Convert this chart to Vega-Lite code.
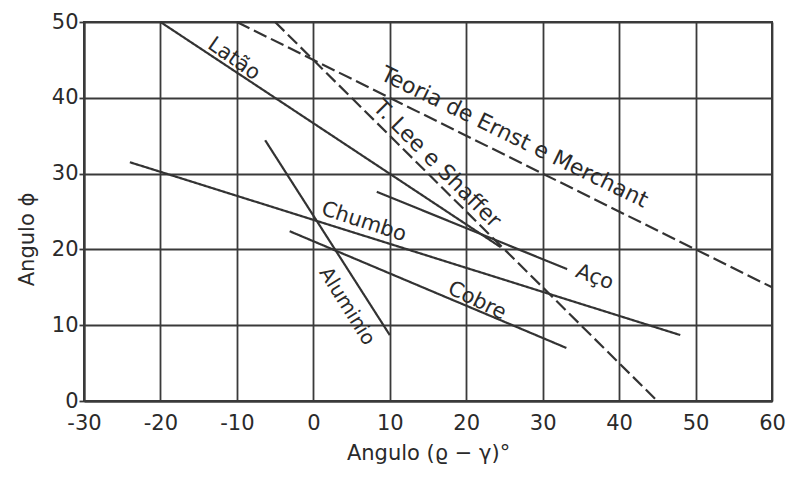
{
  "$schema": "https://vega.github.io/schema/vega-lite/v6.json",
  "width": 688,
  "height": 379,
  "autosize": {"type": "none"},
  "padding": {"left": 84, "top": 22, "right": 18, "bottom": 82},
  "background": "white",
  "config": {
    "view": {"stroke": "#3a3a3a", "strokeWidth": 2},
    "font": "DejaVu Sans",
    "axis": {
      "grid": true,
      "gridColor": "#3a3a3a",
      "gridWidth": 1.8,
      "gridOpacity": 1,
      "domainColor": "#3a3a3a",
      "domainWidth": 2,
      "labelFont": "DejaVu Sans",
      "labelFontSize": 21,
      "labelColor": "#2a2a2a",
      "titleFont": "DejaVu Sans",
      "titleFontSize": 21,
      "titleFontWeight": "normal",
      "titleColor": "#2a2a2a"
    }
  },
  "datasets": {
    "lines": [
      {"series": "Teoria de Ernst e Merchant", "x": -10, "y": 50},
      {"series": "Teoria de Ernst e Merchant", "x": 60, "y": 15},
      {"series": "T. Lee e Shaffer", "x": -5, "y": 50},
      {"series": "T. Lee e Shaffer", "x": 45, "y": 0},
      {"series": "Latão", "x": -20, "y": 50},
      {"series": "Latão", "x": 24.5, "y": 20.3},
      {"series": "Aço", "x": 8.3, "y": 27.6},
      {"series": "Aço", "x": 33.2, "y": 17.4},
      {"series": "Chumbo", "x": -24, "y": 31.5},
      {"series": "Chumbo", "x": 48, "y": 8.7},
      {"series": "Aluminio", "x": -6.3, "y": 34.4},
      {"series": "Aluminio", "x": 10, "y": 8.7},
      {"series": "Cobre", "x": -3.1, "y": 22.4},
      {"series": "Cobre", "x": 33.1, "y": 7.0}
    ],
    "labels": [
      {"label": "Latão", "x": -10.4, "y": 45.1},
      {"label": "Teoria de Ernst e Merchant", "x": 26.3, "y": 34.8},
      {"label": "T. Lee e Shaffer", "x": 16.2, "y": 31.3},
      {"label": "Chumbo", "x": 6.6, "y": 23.6},
      {"label": "Aluminio", "x": 4.4, "y": 12.5},
      {"label": "Cobre", "x": 21.4, "y": 13.2},
      {"label": "Aço", "x": 36.8, "y": 16.3}
    ]
  },
  "layer": [
    {
      "data": {"name": "lines"},
      "mark": {"type": "line", "color": "#333", "strokeWidth": 2.2},
      "encoding": {
        "x": {
          "field": "x", "type": "quantitative",
          "scale": {"domain": [-30, 60], "nice": false, "zero": false},
          "axis": {"values": [-30, -20, -10, 0, 10, 20, 30, 40, 50, 60], "labelExpr": "'' + datum.value", "ticks": false, "labelPadding": 11, "title": "Angulo (ϱ − γ)°", "titlePadding": 9, "labelFlush": false}
        },
        "y": {
          "field": "y", "type": "quantitative",
          "scale": {"domain": [0, 50], "nice": false},
          "axis": {"values": [0, 10, 20, 30, 40, 50], "tickSize": 5, "tickColor": "#3a3a3a", "tickWidth": 1.8, "labelPadding": 1, "title": "Angulo ϕ", "titleX": -47, "titleY": 217, "labelFlush": false}
        },
        "detail": {"field": "series"},
        "strokeDash": {
          "field": "series", "type": "nominal", "legend": null,
          "scale": {
            "domain": ["Teoria de Ernst e Merchant", "T. Lee e Shaffer", "Latão", "Aço", "Chumbo", "Aluminio", "Cobre"],
            "range": [[14, 5], [13, 5], [1, 0], [1, 0], [1, 0], [1, 0], [1, 0]]
          }
        }
      }
    },
    {"data": {"name": "labels"}, "transform": [{"filter": "datum.label === 'Latão'"}],
     "mark": {"type": "text", "angle": 35, "fontSize": 21, "color": "#2a2a2a", "align": "center", "baseline": "middle"},
     "encoding": {"x": {"field": "x", "type": "quantitative"}, "y": {"field": "y", "type": "quantitative"}, "text": {"field": "label"}}},
    {"data": {"name": "labels"}, "transform": [{"filter": "datum.label === 'Teoria de Ernst e Merchant'"}],
     "mark": {"type": "text", "angle": 26, "fontSize": 22, "color": "#2a2a2a", "align": "center", "baseline": "middle"},
     "encoding": {"x": {"field": "x", "type": "quantitative"}, "y": {"field": "y", "type": "quantitative"}, "text": {"field": "label"}}},
    {"data": {"name": "labels"}, "transform": [{"filter": "datum.label === 'T. Lee e Shaffer'"}],
     "mark": {"type": "text", "angle": 45, "fontSize": 22, "color": "#2a2a2a", "align": "center", "baseline": "middle"},
     "encoding": {"x": {"field": "x", "type": "quantitative"}, "y": {"field": "y", "type": "quantitative"}, "text": {"field": "label"}}},
    {"data": {"name": "labels"}, "transform": [{"filter": "datum.label === 'Chumbo'"}],
     "mark": {"type": "text", "angle": 18, "fontSize": 21, "color": "#2a2a2a", "align": "center", "baseline": "middle"},
     "encoding": {"x": {"field": "x", "type": "quantitative"}, "y": {"field": "y", "type": "quantitative"}, "text": {"field": "label"}}},
    {"data": {"name": "labels"}, "transform": [{"filter": "datum.label === 'Aluminio'"}],
     "mark": {"type": "text", "angle": 58, "fontSize": 20, "color": "#2a2a2a", "align": "center", "baseline": "middle"},
     "encoding": {"x": {"field": "x", "type": "quantitative"}, "y": {"field": "y", "type": "quantitative"}, "text": {"field": "label"}}},
    {"data": {"name": "labels"}, "transform": [{"filter": "datum.label === 'Cobre'"}],
     "mark": {"type": "text", "angle": 26, "fontSize": 21, "color": "#2a2a2a", "align": "center", "baseline": "middle"},
     "encoding": {"x": {"field": "x", "type": "quantitative"}, "y": {"field": "y", "type": "quantitative"}, "text": {"field": "label"}}},
    {"data": {"name": "labels"}, "transform": [{"filter": "datum.label === 'Aço'"}],
     "mark": {"type": "text", "angle": 20, "fontSize": 21, "color": "#2a2a2a", "align": "center", "baseline": "middle"},
     "encoding": {"x": {"field": "x", "type": "quantitative"}, "y": {"field": "y", "type": "quantitative"}, "text": {"field": "label"}}}
  ]
}
